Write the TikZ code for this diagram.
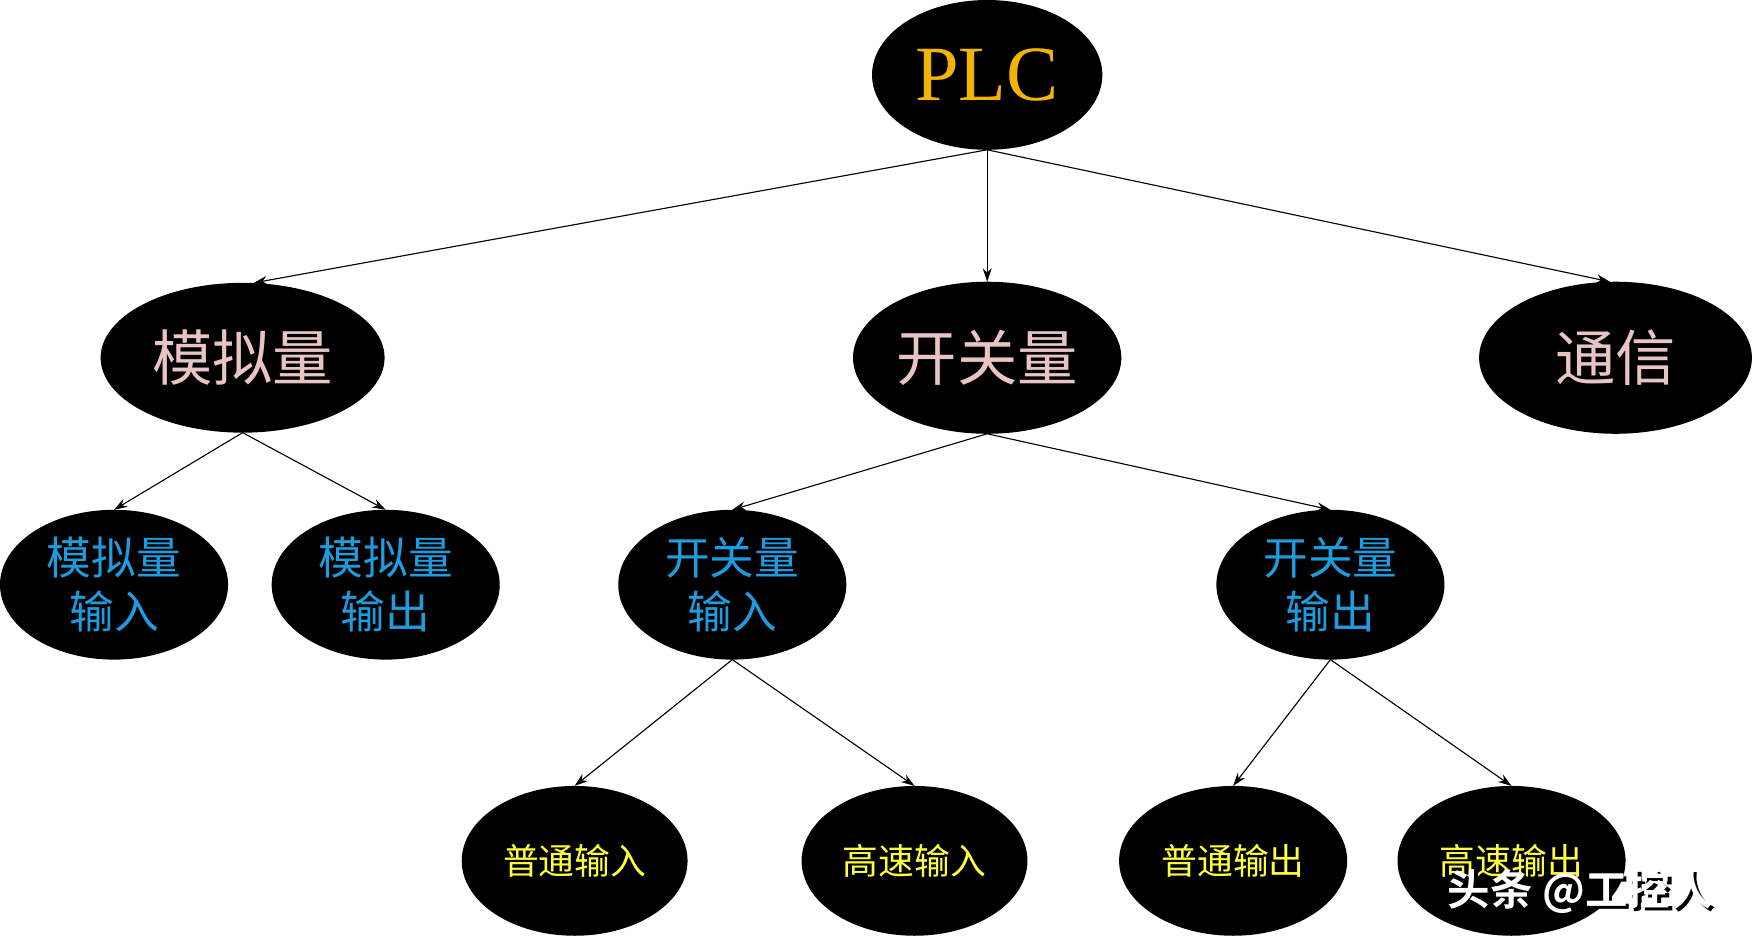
\documentclass[tikz,border=0pt]{standalone}
\usepackage{fontspec}
\setmainfont{Liberation Serif}
\newfontfamily\cjk{Noto Sans CJK SC}
\newfontfamily\cjkb{Noto Sans CJK SC Bold}
\usetikzlibrary{arrows.meta}
\definecolor{plcc}{HTML}{F2B400}
\definecolor{pinkc}{HTML}{E8C4C4}
\definecolor{bluec}{HTML}{1E9CE0}
\definecolor{yelc}{HTML}{FFFF3C}
\begin{document}
\begin{tikzpicture}[x=0.5pt,y=-0.5pt,
  edge/.style={draw=black,line width=0.5pt,-{Stealth[length=6pt,width=4pt]}},
  l1/.style={text=pinkc,font=\cjk\fontsize{27}{30}\selectfont},
  l2/.style={text=bluec,font=\cjk\fontsize{20}{24}\selectfont,align=center},
  l3/.style={text=yelc,font=\cjk\fontsize{16}{20}\selectfont},
  wms/.style={font=\cjkb\fontsize{19}{20}\selectfont,anchor=west}]
\fill[white] (0,0) rectangle (1568,839);
\useasboundingbox (0,0) rectangle (1568,839);
\newcommand{\myell}[5]{\fill (#2,#3) ellipse [x radius=#4*0.5pt,y radius=#5*0.5pt]; \coordinate (#1n) at (#2,#3-#5); \coordinate (#1s) at (#2,#3+#5);}
\myell{plc}{883}{67}{103}{67}
\myell{a}{217}{320}{127}{67}
\myell{k}{883}{320}{120}{68}
\myell{t}{1445}{320}{122}{68}
\myell{ai}{102}{523}{102}{67}
\myell{ao}{345}{523}{102}{67}
\myell{ki}{655}{523}{102}{67}
\myell{ko}{1190}{523}{102}{67}
\myell{pi}{514}{770}{101}{67}
\myell{hi}{818}{770}{101}{67}
\myell{po}{1103}{770}{102}{67}
\myell{ho}{1352}{770}{102}{67}
\node[text=plcc,font=\fontsize{35}{40}\selectfont] (tplc) at (883,67) {PLC};
\node[l1] (ta) at (217,320) {模拟量};
\node[l1] (tk) at (883,320) {开关量};
\node[l1] (tt) at (1445,320) {通信};
\node[l2] (tai) at (102,523) {模拟量\\输入};
\node[l2] (tao) at (345,523) {模拟量\\输出};
\node[l2] (tki) at (655,523) {开关量\\输入};
\node[l2] (tko) at (1190,523) {开关量\\输出};
\node[l3] (tpi) at (514,770) {普通输入};
\node[l3] (thi) at (818,770) {高速输入};
\node[l3] (tpo) at (1103,770) {普通输出};
\node[l3] (tho) at (1352,770) {高速输出};
\coordinate (an2) at (227,253);
\coordinate (tn2) at (1440,252);
\draw[edge] (plcs) -- (an2);
\draw[edge] (plcs) -- (kn);
\draw[edge] (plcs) -- (tn2);
\draw[edge] (as) -- (ain);
\draw[edge] (as) -- (aon);
\draw[edge] (ks) -- (kin);
\draw[edge] (ks) -- (kon);
\draw[edge] (kis) -- (pin);
\draw[edge] (kis) -- (hin);
\draw[edge] (kos) -- (pon);
\draw[edge] (kos) -- (hon);
\node[wms,text=black] (wmshadow) at (1291,800) {头条 @工控人};
\node[wms,text=white] (wm) at (1288,797) {头条 @工控人};
\end{tikzpicture}
\end{document}
